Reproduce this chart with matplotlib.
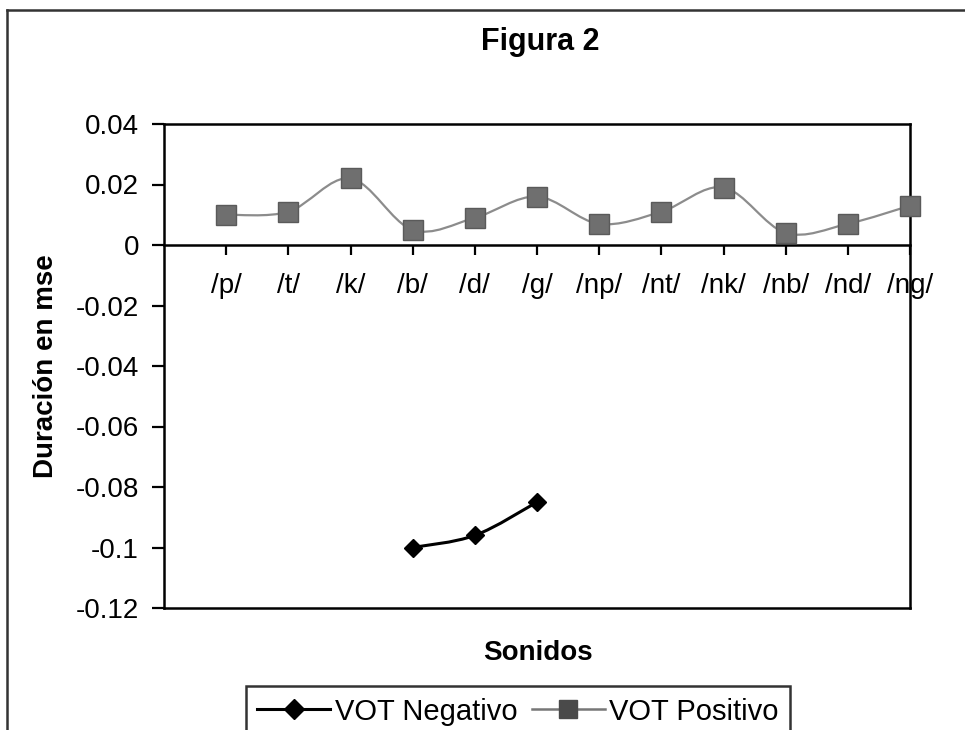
import numpy as np
import matplotlib
matplotlib.use("Agg")
import matplotlib.pyplot as plt
from matplotlib.path import Path
from matplotlib.patches import PathPatch
from matplotlib.lines import Line2D

plt.rcParams['font.family'] = ['Liberation Sans', 'DejaVu Sans']

# categories and values (seconds)
sonidos = ["/p/", "/t/", "/k/", "/b/", "/d/", "/g/",
           "/np/", "/nt/", "/nk/", "/nb/", "/nd/", "/ng/"]
vot_positivo = [0.010, 0.011, 0.022, 0.005, 0.009, 0.016,
                0.007, 0.011, 0.019, 0.004, 0.007, 0.013]
vot_negativo = [np.nan, np.nan, np.nan, -0.100, -0.096, -0.085,
                np.nan, np.nan, np.nan, np.nan, np.nan, np.nan]
y_ticks = [0.04, 0.02, 0, -0.02, -0.04, -0.06, -0.08, -0.1, -0.12]


def smooth_path(xs, ys):
    # excel style smoothed line: bezier segments through the points
    pts = np.column_stack([xs, ys])
    verts = [pts[0]]
    codes = [Path.MOVETO]
    n = len(pts)
    for i in range(n - 1):
        p0 = pts[i - 1] if i > 0 else pts[i]
        p1 = pts[i]
        p2 = pts[i + 1]
        p3 = pts[i + 2] if i + 2 < n else pts[i + 1]
        verts += [p1 + (p2 - p0) / 6, p2 - (p3 - p1) / 6, p2]
        codes += [Path.CURVE4] * 3
    return Path(verts, codes)


x = np.arange(1, len(sonidos) + 1)

fig = plt.figure(figsize=(9.65, 7.3), dpi=100)
ax = fig.add_axes([164/965, 1-608/730, (910-164)/965, (608-124)/730])

# positive series
ax.add_patch(PathPatch(smooth_path(x, vot_positivo), fill=False,
                       edgecolor='#8c8c8c', lw=1.6, zorder=2))
ax.plot(x, vot_positivo, ls='none', marker='s', ms=14, mfc='#6f6f6f',
        mec='#5a5a5a', mew=1, zorder=3, clip_on=False)

# negative series
neg = np.array(vot_negativo)
ok = ~np.isnan(neg)
ax.add_patch(PathPatch(smooth_path(x[ok], neg[ok]), fill=False,
                       edgecolor='black', lw=2.2, zorder=2))
ax.plot(x[ok], neg[ok], ls='none', marker='D', ms=9, color='black', zorder=3)

ax.set_xlim(0, 12)
ax.set_ylim(-0.12, 0.04)
ax.set_yticks(y_ticks)
ax.set_yticklabels([f"{v:g}" for v in y_ticks])
ax.set_xticks(x)
ax.set_xticklabels(sonidos)

for s in ax.spines.values():
    s.set_linewidth(1.8)
ax.spines['bottom'].set_position(('data', 0))
# bottom of the plot box
ax.plot([0, 1], [0, 0], transform=ax.transAxes, color='black', lw=1.8,
        clip_on=False)

ax.tick_params(axis='y', direction='out', length=9, width=1.6, pad=9,
               labelsize=20)
ax.tick_params(axis='x', direction='out', length=7, width=1.6, pad=13,
               labelsize=20)

ax.set_ylabel("Duración en mse", fontsize=20, fontweight='bold', labelpad=12)
fig.text(538/965, 1-653/730, "Sonidos", fontsize=20, fontweight='bold',
         ha='center', va='center')
fig.text(540/965, 1-42/730, "Figura 2", fontsize=22, fontweight='bold',
         ha='center', va='center')

handles = [
    Line2D([], [], color='black', lw=2.2, marker='D', ms=10),
    Line2D([], [], color='#777777', lw=1.8, marker='s', ms=13,
           mfc='#4a4a4a', mec='#4a4a4a'),
]
leg = fig.legend(handles, ["VOT Negativo", "VOT Positivo"], ncol=2,
                 loc='upper center', bbox_to_anchor=(518/965, 1-686/730),
                 fontsize=21, frameon=True, fancybox=False, handlelength=2.5,
                 handletextpad=0.15, columnspacing=0.5, borderpad=0.4,
                 borderaxespad=0)
leg.get_frame().set_edgecolor('black')
leg.get_frame().set_linewidth(1.8)

# chart area border (left and top edges visible in the scan)
fig.add_artist(Line2D([7/965, 7/965], [0, 1-10/730], color='#333333',
                      lw=1.8, transform=fig.transFigure))
fig.add_artist(Line2D([7/965, 1], [1-10/730, 1-10/730], color='#333333',
                      lw=1.8, transform=fig.transFigure))

fig.savefig("out.png", dpi=100)
